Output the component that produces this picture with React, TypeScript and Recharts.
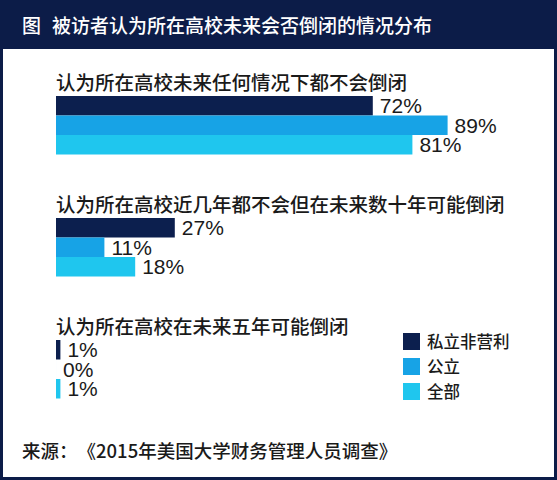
import React from 'react';
import { BarChart, Bar, XAxis, YAxis, LabelList } from 'recharts';

const categories = [
  '认为所在高校未来任何情况下都不会倒闭',
  '认为所在高校近几年都不会但在未来数十年可能倒闭',
  '认为所在高校在未来五年可能倒闭',
];
const privateNonprofit = [72, 27, 1];
const publicSchools = [89, 11, 0];
const allSchools = [81, 18, 1];
const seriesNames = ['私立非营利', '公立', '全部'];
const seriesColors = ['#0c1f4e', '#17a3e6', '#1fc6ee'];
const titlePrefix = '图';
const titleText = '被访者认为所在高校未来会否倒闭的情况分布';
const sourceText = '来源：《2015年美国大学财务管理人员调查》';

const data = categories.map((name, i) => ({
  name,
  p: privateNonprofit[i],
  g: publicSchools[i],
  a: allSchools[i],
}));

const FONT = '"Liberation Sans", Arial, "Noto Sans CJK SC", sans-serif';
const CJK = '"Noto Sans CJK SC", "Liberation Sans", sans-serif';
const NAVY = '#0c1c48';

const CategoryLabel = (props: any) => {
  const { x, y, value } = props;
  return (
    <text x={x} y={y - 6} fill="#1a1a1a" fontSize={19.5} fontFamily={CJK} fontWeight={500}>
      {value}
    </text>
  );
};

const ValueLabel = (props: any) => {
  const { x, y, width, height, value } = props;
  if (value === undefined || value === null) return null;
  const w = Number(width || 0) < 0.5 ? 0 : Number(width || 0);
  return (
    <text
      x={Number(x) + w + 7}
      y={Number(y) + Number(height) / 2 + 7.5}
      fill="#1a1a1a"
      fontSize={21}
      fontFamily={FONT}
    >
      {`${value}%`}
    </text>
  );
};

export default function App() {
  const keys = ['p', 'g', 'a'];
  return (
    <div
      style={{
        position: 'absolute',
        left: 0,
        top: 0,
        width: 557,
        height: 480,
        background: '#fff',
        overflow: 'hidden',
      }}
    >
      <BarChart
        width={557}
        height={480}
        data={data}
        layout="vertical"
        margin={{ top: 64, right: 61, bottom: 50, left: 56 }}
        barGap={0}
        barSize={19.5}
      >
        <XAxis type="number" domain={[0, 100]} hide />
        <YAxis type="category" dataKey="name" hide />
        {keys.map((k, i) => (
          <Bar
            key={k}
            dataKey={k}
            name={seriesNames[i]}
            fill={seriesColors[i]}
            minPointSize={0.01}
            isAnimationActive={false}
          >
            {i === 0 && <LabelList dataKey="name" content={<CategoryLabel />} />}
            <LabelList dataKey={k} content={<ValueLabel />} />
          </Bar>
        ))}
      </BarChart>
      <div style={{ position: 'absolute', left: 403, top: 329 }}>
        {seriesNames.map((n, i) => (
          <div key={n} style={{ display: 'flex', alignItems: 'center', height: 25 }}>
            <div style={{ width: 17, height: 17, background: seriesColors[i], marginRight: 7 }} />
            <span style={{ fontFamily: CJK, fontSize: 16.5, color: '#1a1a1a', fontWeight: 500, lineHeight: '25px' }}>
              {n}
            </span>
          </div>
        ))}
      </div>
      <div
        style={{
          position: 'absolute',
          left: 0,
          top: 0,
          width: 557,
          height: 49,
          background: NAVY,
          color: '#fff',
          fontFamily: CJK,
          fontSize: 19,
          fontWeight: 500,
          lineHeight: '49px',
          paddingLeft: 22,
          boxSizing: 'border-box',
          whiteSpace: 'pre',
        }}
      >
        <span>{titlePrefix}</span>
        <span style={{ marginLeft: 11 }}>{titleText}</span>
      </div>
      <div
        style={{
          position: 'absolute',
          left: 22,
          top: 436,
          fontFamily: CJK,
          fontSize: 18.5,
          fontWeight: 500,
          color: '#1a1a1a',
          lineHeight: '28px',
          whiteSpace: 'pre',
          textSpacingTrim: 'space-all',
        } as any}
      >
        {sourceText}
      </div>
      <div
        style={{
          position: 'absolute',
          left: 0,
          top: 0,
          width: 557,
          height: 480,
          border: `3px solid ${NAVY}`,
          boxSizing: 'border-box',
          pointerEvents: 'none',
        }}
      />
    </div>
  );
}
